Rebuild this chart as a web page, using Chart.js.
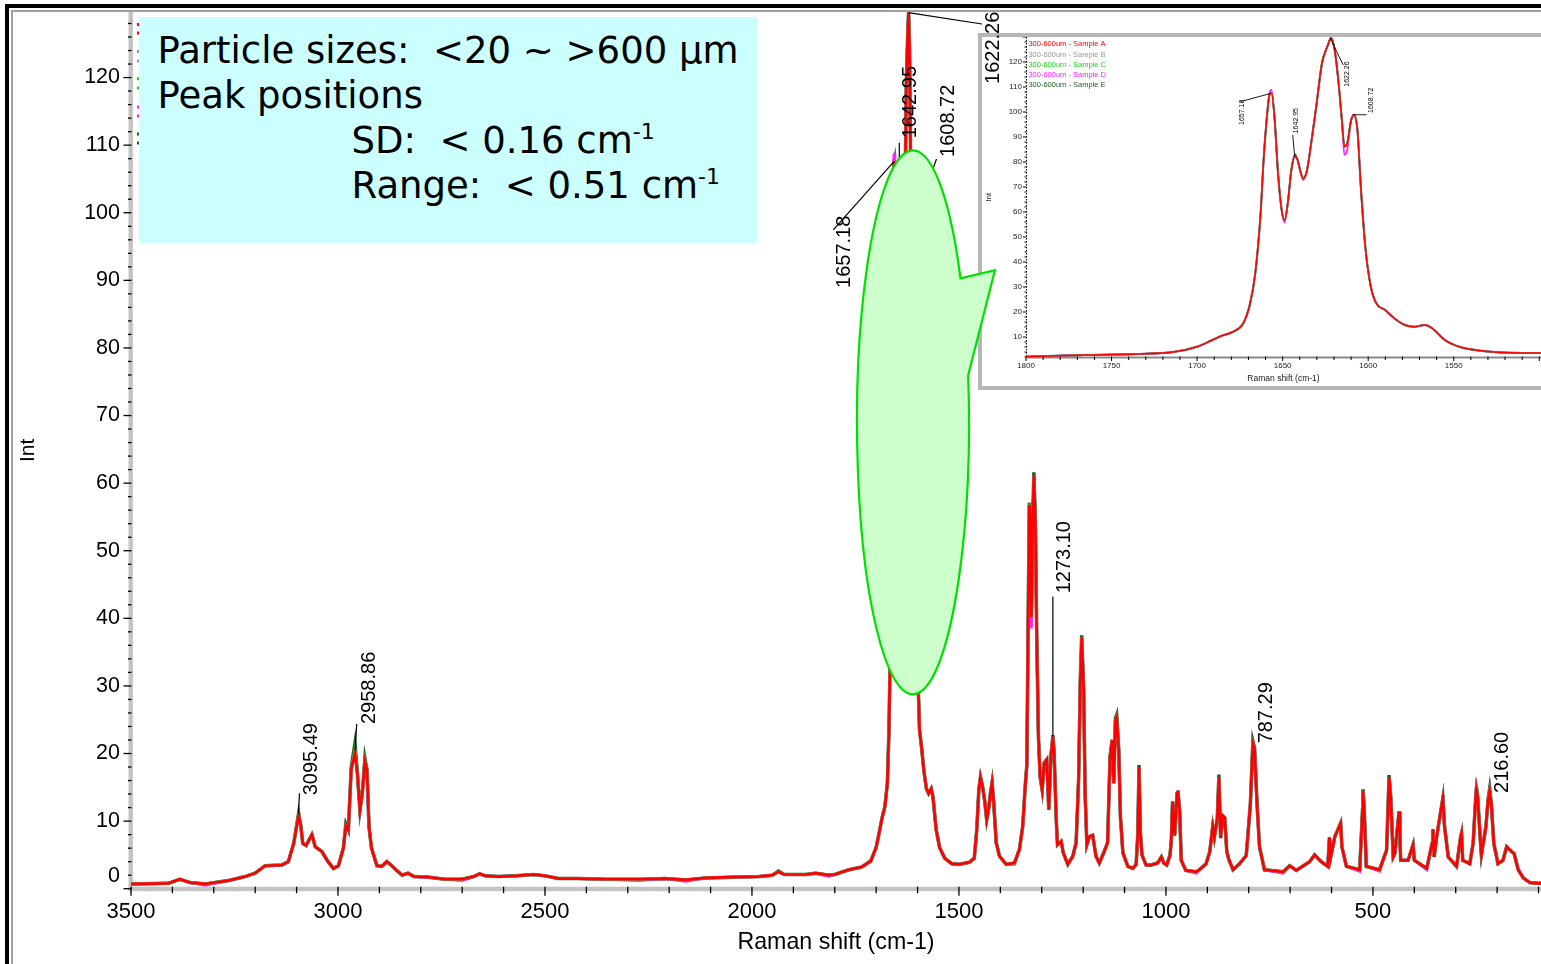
<!DOCTYPE html>
<html>
<head>
<meta charset="utf-8">
<title>Raman spectra – 300-600um samples</title>
<script src="https://cdn.jsdelivr.net/npm/chart.js@4.4.1/dist/chart.umd.min.js"></script>
<style>
  html, body { margin:0; padding:0; background:#fff; width:1541px; height:964px; overflow:hidden; position:relative; }
  .frame-outer { position:absolute; left:5px; top:4px; width:1700px; height:1100px; border-top:4px solid #000; border-left:4px solid #000; }
  .frame-inner { position:absolute; left:11px; top:10px; width:1700px; height:1100px; border-top:2px solid #a0a0a0; border-left:2px solid #a0a0a0; }
  #inset { position:absolute; left:978px; top:33px; width:620px; height:349px; border:4px solid #b6b6b6; border-right:none; background:#fff; z-index:1; }
  #insetCanvas { position:absolute; left:0; top:0; }
  #mainCanvas { position:absolute; left:0; top:0; z-index:2; }
  #note { position:absolute; left:139px; top:17px; width:618px; height:226px; box-sizing:border-box; padding:11px 0 0 18.5px;
          background:#ccffff; z-index:3; font-family:"DejaVu Sans", Verdana, sans-serif; font-size:37px; line-height:45px; color:#000; white-space:pre; }
  #note .ind { padding-left:194px; }
  #note .sup { font-size:22px; position:relative; top:-14px; line-height:0; }
</style>
</head>
<body>
<div class="frame-outer"></div>
<div class="frame-inner"></div>
<div id="inset"><canvas id="insetCanvas" width="559" height="349" style="width:559px;height:349px"></canvas></div>
<canvas id="mainCanvas" width="1541" height="964" style="width:1541px;height:964px"></canvas>
<div id="note"><div>Particle sizes:  &lt;20 ~ &gt;600 μm</div><div>Peak positions</div><div class="ind">SD:  &lt; 0.16 cm<span class="sup">-1</span></div><div class="ind">Range:  &lt; 0.51 cm<span class="sup">-1</span></div></div>
<script>
// ================= DATA =================
const ramanShift = [
  3500,3410,3382,3357,3321,3265,3224,3200,3176,3136,
  3120,3107,3095,3090,3085,3077,3063,3055,3039,3024,
  3011,2999,2987,2981,2975,2968,2959,2953,2947,2941,
  2935,2930,2925,2919,2906,2894,2882,2870,2858,2845,
  2831,2817,2781,2741,2700,2672,2658,2644,2612,2571,
  2527,2499,2467,2418,2354,2273,2209,2160,2112,2047,
  1983,1951,1936,1922,1870,1846,1814,1800,1766,1735,
  1713,1700,1692,1686,1679,1673,1669,1666,1663,1661,
  1659,1657.6,1656.5,1654.8,1652.7,1650.6,1648.9,1647,1644.9,1642.8,
  1641.3,1639.6,1638,1635.9,1633.3,1630.1,1627,1623.8,1621.7,1619.6,
  1617.5,1615.4,1613.9,1612.2,1610.1,1608.4,1606.3,1604.2,1601.7,1598.5,
  1595.3,1590.1,1584.8,1578.6,1573.3,1567,1562.6,1555.2,1546.8,1534.1,
  1517.3,1500.4,1475,1463,1457,1452,1448,1443,1438,1433,
  1428,1424,1420,1416,1410,1402,1386,1366,1354,1346,
  1340,1336,1333,1330,1327,1325,1322,1319,1315.5,1312,
  1308,1304,1299,1294,1288,1283,1278,1273,1270,1265,
  1262,1253,1248,1237,1225,1217,1211,1207,1203.5,1199,
  1195,1191,1185,1177,1169,1161,1149,1141,1135,1130,
  1126,1122,1119,1114,1110,1104,1092,1080,1072,1068,
  1065,1062,1058,1048,1036,1020,1011,1005,998,990,
  987,984,979,973,971,967,963,952,927,919,
  903,894,887,883,876,872,868,863,858,853,
  848,838,822,806,796,790,786,780,774,762,
  717,701,685,653,641,625,609,605,602,592,
  578,575,564,532,525,524,521,516,484,467,
  461,457,451,447,437,435,433,415,403,400,
  370,357,355,352,346,331,327,318,298,288,
  286,283,266,258,252,250,247,240,238,227,
  222,218,214,208,198,186,177,165,159,149,
  137,121,101,90
];
const sampleA = [
  0.7,0.8,1.4,0.9,0.7,1.2,1.8,2.3,3.4,3.5,
  4.0,6.7,10.9,9.4,6.7,6.4,8.0,6.2,5.5,4.0,
  3.0,3.4,6.0,9.3,8.7,17.6,20.0,17.0,11.6,14.3,
  18.8,17.6,9.1,6.0,3.4,3.3,4.0,3.4,2.7,2.0,
  2.3,1.8,1.7,1.4,1.4,1.8,2.2,1.9,1.8,1.9,
  2.1,1.9,1.5,1.5,1.4,1.4,1.5,1.3,1.6,1.7,
  1.8,2.0,2.5,2.1,2.1,2.3,2.0,2.1,2.8,3.2,
  4.1,6.1,8.5,10.4,12.1,15.5,23.5,35.5,58.2,82.2,
  99.6,106.9,107.6,98.2,75.5,60.9,56.6,63.5,76.9,82.2,
  80.9,76.2,73.5,76.2,87.6,103.6,119.6,126.3,129.6,124.9,
  112.9,96.9,86.2,87.6,96.3,98.9,92.9,68.9,46.2,30.2,
  23.5,20.8,17.5,14.8,14.1,14.8,13.5,8.8,6.1,4.5,
  3.7,3.6,3.9,4.5,8.7,14.6,16.5,15.1,13.1,10.2,
  11.9,14.1,15.7,12.7,6.8,4.8,3.6,3.8,5.8,9.2,
  15.1,18.3,38.8,56.8,54.5,40.2,54.0,61.2,54.5,36.8,
  22.5,16.6,14.6,18.6,19.1,11.7,19.5,22.5,20.0,10.2,
  6.5,7.0,5.3,3.6,4.8,6.8,16.1,30.4,37.2,29.9,
  13.6,6.5,7.7,7.9,4.8,3.8,5.5,6.8,19.5,22.0,
  15.6,24.9,25.4,20.5,10.7,5.3,3.3,3.0,3.6,8.0,
  18.0,8.5,5.0,3.5,3.5,3.8,4.7,3.8,3.5,5.0,
  7.2,12.9,7.9,14.1,14.5,11.6,4.2,2.7,2.5,2.8,
  3.7,5.5,9.2,7.6,10.4,16.5,7.5,10.8,10.5,5.5,
  4.3,2.8,3.7,4.9,12.6,21.5,20.8,12.6,6.2,2.8,
  2.5,3.4,2.7,4.0,5.0,4.0,3.3,7.6,4.7,7.7,
  9.7,6.2,3.3,2.8,11.7,14.4,11.7,3.3,2.8,5.7,
  16.5,13.6,4.7,5.2,11.4,8.2,4.2,4.2,6.5,4.2,
  3.0,6.7,8.8,4.7,7.7,13.4,9.2,4.7,3.3,7.7,
  8.2,4.2,3.7,6.7,13.1,14.8,13.6,6.7,5.0,9.2,
  13.1,14.5,12.6,6.7,3.7,4.2,6.2,5.5,5.2,2.8,
  1.6,0.9,0.8,0.8
];
const sampleB = [
  0.7,0.8,1.4,0.9,0.7,1.2,1.8,2.3,3.4,3.5,
  4.0,6.7,10.9,9.4,6.7,6.4,8.0,6.2,5.5,4.0,
  3.0,3.4,6.0,9.3,8.7,17.6,20.3,17.0,11.6,14.3,
  18.8,17.6,9.1,6.0,3.4,3.3,4.0,3.4,2.7,2.0,
  2.3,1.8,1.7,1.4,1.4,1.8,2.2,1.9,1.8,1.9,
  2.1,1.9,1.5,1.5,1.4,1.4,1.5,1.3,1.6,1.7,
  1.8,2.0,2.5,2.1,2.1,2.3,2.0,2.1,2.8,3.2,
  4.1,6.1,8.5,10.4,12.1,15.5,23.5,35.5,58.2,82.2,
  99.6,106.9,107.6,98.2,75.5,60.9,56.6,63.5,76.9,82.2,
  80.9,76.2,73.5,76.2,87.6,103.6,119.6,126.3,129.6,124.9,
  112.9,96.9,86.2,87.6,96.3,98.9,92.9,68.9,46.2,30.2,
  23.5,20.8,17.5,14.8,14.1,14.8,13.5,8.8,6.1,4.5,
  3.7,3.6,3.9,4.5,8.7,14.6,16.5,15.1,13.1,10.2,
  11.9,14.1,15.7,12.7,6.8,4.8,3.6,3.8,5.8,9.2,
  15.1,18.3,38.8,56.8,54.5,40.6,54.0,61.2,54.5,36.8,
  22.5,16.6,14.6,18.6,19.1,11.7,19.5,22.5,20.0,10.2,
  6.5,7.0,5.3,3.6,4.8,6.8,16.1,30.4,37.2,29.9,
  13.6,6.5,7.7,7.9,4.8,3.8,5.5,6.8,19.5,22.0,
  15.6,24.9,25.4,20.5,10.7,5.3,3.3,3.0,3.6,8.0,
  18.0,8.5,5.0,3.5,3.5,3.8,4.7,3.8,3.5,5.0,
  7.2,12.9,7.9,14.1,14.5,11.6,4.2,2.7,2.5,2.8,
  3.7,5.5,9.2,7.6,10.4,16.5,7.5,10.8,10.5,5.5,
  4.3,2.8,3.7,4.9,12.6,21.5,20.8,12.6,6.2,2.8,
  2.5,3.4,2.7,4.0,5.0,4.0,3.3,7.6,4.7,7.7,
  9.7,6.2,3.3,2.8,11.7,14.4,11.7,3.3,2.8,5.7,
  16.5,13.6,4.7,5.2,11.4,8.2,4.2,4.2,6.5,4.2,
  3.0,6.7,8.8,4.7,7.7,13.4,9.2,4.7,3.3,7.7,
  8.2,4.2,3.7,6.7,13.1,14.8,13.6,6.7,5.0,9.2,
  13.1,14.5,12.6,6.7,3.7,4.2,6.2,5.5,5.2,2.8,
  1.6,0.9,0.8,0.8
];
const sampleC = [
  0.7,0.8,1.4,0.9,0.7,1.2,1.8,2.3,3.4,3.5,
  4.0,6.7,10.9,9.4,6.7,6.4,8.0,6.2,5.5,4.0,
  3.0,3.4,6.0,9.3,8.7,17.6,20.6,17.0,11.6,14.3,
  19.0,17.6,9.1,6.0,3.4,3.3,4.0,3.4,2.7,2.0,
  2.3,1.9,1.7,1.4,1.4,1.8,2.2,1.9,1.8,1.9,
  2.1,1.9,1.5,1.5,1.4,1.4,1.5,1.3,1.6,1.7,
  1.8,2.0,2.5,2.1,2.1,2.3,2.0,2.1,2.8,3.2,
  4.1,6.1,8.5,10.4,12.1,15.5,23.5,35.5,58.2,82.2,
  99.6,106.9,107.6,98.2,75.5,60.9,56.6,63.5,76.9,82.2,
  80.9,76.2,73.5,76.2,87.6,103.6,119.6,126.3,129.6,124.9,
  112.9,96.9,86.2,87.6,96.3,98.9,92.9,68.9,46.2,30.2,
  23.5,20.8,17.5,14.8,14.1,14.8,13.5,8.8,6.1,4.5,
  3.7,3.6,3.9,4.5,8.7,14.6,16.5,15.1,13.1,10.2,
  11.9,14.1,15.7,12.7,6.8,4.8,3.6,3.8,5.8,9.2,
  15.1,18.5,38.8,57.0,54.5,40.2,54.0,61.2,54.5,36.8,
  22.5,16.6,14.6,18.6,19.1,11.7,19.5,22.5,20.0,10.2,
  6.5,7.0,5.3,3.6,4.8,6.8,16.1,30.4,37.2,29.9,
  13.6,6.5,7.7,7.9,4.8,3.8,5.5,6.8,19.5,22.0,
  15.6,24.9,25.4,20.5,10.7,5.3,3.3,3.0,3.6,8.0,
  18.0,8.5,5.0,3.5,3.5,3.8,4.7,3.8,3.5,5.0,
  7.2,12.9,7.9,14.1,14.5,11.6,4.2,2.7,2.5,2.8,
  3.7,5.5,9.2,7.6,10.4,16.5,7.5,10.8,10.5,5.5,
  4.3,2.8,3.7,4.9,12.6,21.5,20.8,12.6,6.2,2.8,
  2.5,3.4,2.7,4.0,5.0,4.0,3.3,7.6,4.7,7.7,
  9.7,6.2,3.3,2.8,11.7,14.4,11.7,3.3,2.8,5.7,
  16.5,13.6,4.7,5.2,11.4,8.2,4.2,4.2,6.5,4.2,
  3.0,6.7,8.8,4.7,7.7,13.4,9.2,4.7,3.3,7.7,
  8.2,4.2,3.7,6.7,13.1,14.8,13.6,6.7,5.0,9.2,
  13.1,14.5,12.6,6.7,3.7,4.2,6.2,5.5,5.2,2.8,
  1.6,0.9,0.8,0.8
];
const sampleD = [
  0.7,0.8,1.4,0.9,0.5,1.2,1.8,2.3,3.4,3.5,
  4.0,6.7,10.9,9.4,6.7,6.4,8.0,6.2,5.5,4.0,
  3.0,3.4,6.0,9.3,8.7,17.6,20.0,17.0,11.6,14.3,
  18.8,17.6,9.1,6.0,3.4,3.3,4.0,3.4,2.7,2.0,
  2.3,1.8,1.7,1.4,1.2,1.8,2.2,1.9,1.8,1.9,
  2.1,1.9,1.5,1.5,1.4,1.2,1.5,1.1,1.6,1.7,
  1.8,2.0,2.5,2.1,2.1,2.3,1.8,2.1,2.8,3.2,
  4.1,6.1,8.5,10.4,12.1,15.5,23.5,35.5,58.2,82.2,
  99.6,107.8,108.8,98.2,75.5,60.9,55.8,63.5,76.9,82.2,
  80.9,76.2,72.8,76.2,87.6,103.6,119.6,126.3,129.6,124.9,
  112.9,96.9,82.9,85.0,96.3,98.9,92.9,68.9,46.2,30.2,
  23.5,20.8,17.5,14.8,14.1,14.8,13.5,8.8,6.1,4.5,
  3.7,3.6,3.9,4.5,8.7,14.6,16.5,15.1,13.1,10.2,
  11.9,14.1,15.7,12.7,6.8,4.8,3.6,3.6,5.8,9.2,
  15.1,18.3,38.0,56.8,54.5,38.5,53.0,61.2,54.5,36.8,
  22.5,16.6,14.6,18.6,19.1,11.7,19.5,22.5,20.0,10.2,
  6.5,7.0,5.3,3.6,4.8,6.8,16.1,30.4,36.8,29.9,
  13.6,6.5,7.7,7.9,4.8,3.8,5.5,6.8,19.5,22.0,
  15.6,24.9,25.0,20.5,10.7,5.3,3.3,3.0,3.6,8.0,
  18.0,8.5,5.0,3.5,3.5,3.8,4.7,3.8,3.5,5.0,
  7.2,12.9,7.9,14.1,14.5,11.6,4.2,2.7,2.3,2.8,
  3.7,5.5,9.2,7.6,10.4,16.5,7.5,10.8,10.5,5.5,
  4.3,2.8,3.7,4.9,12.6,21.5,20.8,12.6,6.2,2.8,
  2.3,3.4,2.7,4.0,5.0,4.0,3.3,7.6,4.7,7.7,
  9.7,6.2,3.3,2.6,11.7,14.4,11.7,3.3,2.6,5.7,
  16.5,13.6,4.7,5.2,11.4,8.2,4.2,4.2,6.5,4.2,
  2.8,6.7,8.8,4.7,7.7,13.4,9.2,4.7,3.3,7.7,
  8.2,4.2,3.7,6.7,13.1,14.8,13.6,6.7,5.0,9.2,
  13.1,14.5,12.6,6.7,3.7,4.2,6.2,5.5,5.2,2.8,
  1.6,0.9,0.8,0.8
];
const sampleE = [
  0.7,0.8,1.4,0.9,0.7,1.2,1.8,2.3,3.4,3.5,
  4.0,6.7,11.2,9.4,6.7,6.4,8.0,6.2,5.5,4.0,
  3.0,3.4,6.0,9.6,8.7,17.9,21.5,17.0,11.6,14.3,
  19.3,17.6,9.1,6.0,3.4,3.3,4.0,3.4,2.7,2.0,
  2.3,1.8,1.7,1.4,1.4,1.8,2.2,1.9,1.8,1.9,
  2.1,1.9,1.5,1.5,1.4,1.4,1.5,1.3,1.6,1.7,
  1.8,2.0,2.6,2.1,2.1,2.3,2.0,2.1,2.8,3.2,
  4.1,6.1,8.5,10.4,12.1,15.5,23.5,35.5,58.2,82.2,
  99.6,107.3,107.6,98.2,75.5,60.9,56.6,63.5,76.9,83.0,
  80.9,76.2,73.5,76.2,87.6,103.6,119.6,126.3,129.6,124.9,
  112.9,96.9,86.2,87.6,96.3,98.9,92.9,68.9,46.2,30.2,
  23.5,20.8,17.5,14.8,14.1,14.8,13.5,8.8,6.1,4.5,
  3.7,3.6,3.9,4.5,8.7,14.6,16.5,15.1,13.1,10.2,
  11.9,14.1,15.7,12.7,6.8,4.8,3.6,3.8,5.8,9.2,
  15.1,18.3,38.8,57.1,54.5,40.2,54.0,61.6,54.5,36.8,
  22.5,16.6,14.6,18.6,19.1,11.7,19.5,22.7,20.0,10.2,
  6.5,7.0,5.3,3.6,4.8,6.8,16.1,30.4,37.5,29.9,
  13.6,6.5,7.7,7.9,4.8,3.8,5.5,6.8,19.5,22.0,
  15.6,25.2,25.7,20.5,10.7,5.3,3.3,3.0,3.6,8.0,
  18.3,8.5,5.0,3.5,3.5,3.8,4.7,3.8,3.5,5.0,
  7.2,12.9,7.9,14.1,14.5,11.6,4.2,2.7,2.5,2.8,
  3.7,5.5,9.2,7.6,10.4,16.9,7.5,10.8,10.5,5.5,
  4.3,2.8,3.7,4.9,12.6,21.8,20.8,12.6,6.2,2.8,
  2.5,3.4,2.7,4.0,5.0,4.0,3.3,7.6,4.7,7.7,
  9.7,6.2,3.3,2.8,11.7,14.7,11.7,3.3,2.8,5.7,
  16.8,13.6,4.7,5.2,11.4,8.2,4.2,4.2,6.5,4.2,
  3.0,6.7,8.8,4.7,7.7,13.4,9.2,4.7,3.3,7.7,
  8.2,4.2,3.7,6.7,13.1,15.0,13.6,6.7,5.0,9.2,
  13.1,14.8,12.6,6.7,3.7,4.2,6.2,5.5,5.2,2.8,
  1.6,0.9,0.8,0.8
];
const seriesNames = ['300-600um - Sample A','300-600um - Sample B','300-600um - Sample C','300-600um - Sample D','300-600um - Sample E'];
const seriesValues = [sampleA, sampleB, sampleC, sampleD, sampleE];

const mainXTicks = [3500, 3000, 2500, 2000, 1500, 1000, 500];
const mainYTicks = [0, 10, 20, 30, 40, 50, 60, 70, 80, 90, 100, 110, 120];
const insetXTicks = [1800, 1750, 1700, 1650, 1600, 1550];
const insetYTicks = [10, 20, 30, 40, 50, 60, 70, 80, 90, 100, 110, 120];

const peakLabels = ['3095.49', '2958.86', '1657.18', '1642.95', '1622.26', '1608.72', '1273.10', '787.29', '216.60'];
const peakShift = [3095.49, 2958.86, 1657.18, 1642.95, 1622.26, 1608.72, 1273.10, 787.29, 216.60];
const peakIntensity = [11.0, 20.0, 108.6, 82.2, 129.6, 98.9, 22.5, 21.5, 14.5];

const insetPeakLabels = ['1657.18', '1642.95', '1622.26', '1608.72'];
const insetPeakShift = [1657.18, 1642.95, 1622.26, 1608.72];
const insetPeakIntensity = [108.6, 82.2, 129.6, 98.9];

// ================= STYLE =================
const seriesColors = ['#ff0000', '#999999', '#22cc22', '#ff22ff', '#1f5f1f'];
const mainLineWidths = [2.7, 2.7, 2.8, 2.9, 3.5];
const insetLineWidths = [1.5, 1.5, 1.6, 1.8, 2.0];
// label placement offsets (px, relative to the peak point): s = leader start, e = leader end, t = text centre/bottom
const mainLabelLayout = [
  { s: [0, 0], e: [1, -21], t: [13.5, -19] },
  { s: [0, -3], e: [1.7, -29.5], t: [14, -29.5] },
  { s: [0, 7], e: [-60.6, 75.3], t: [-48.9, 133.3] },
  { s: [0, 0], e: [-0.5, -190.4], t: [11.2, -194.8] },
  { s: [0, 0], e: [73.6, 11.3], t: [85.6, 71.3] },
  { s: [0, 0], e: [22.6, -61.2], t: [34.1, -63.2] },
  { s: [0, 0], e: [0, -140], t: [12.1, -143.3] },
  { s: [0, 0], e: [0, 0], t: [12, 0] },
  { s: [0, 0], e: [0, 0], t: [12.2, 2.3] }
];
const insetLabelLayout = [
  { s: [0, 3], e: [-30.1, 11.2], t: [-28.4, 34.5] },
  { s: [0, 0], e: [-2, -21.5], t: [1.6, -23.2] },
  { s: [0, 0], e: [13.1, 27], t: [16.7, 48.7] },
  { s: [0, 0], e: [13.4, 0], t: [17.7, -1.75] }
];
// callout (ellipse centre & tail tip in data units, radii in px)
const callout = { cx: 1611, cy: 69, rx: 56, ry: 272, tipX: 1413, tipY: 91.5, a1: -0.558, a2: -0.1737 };
const FONT = '"Liberation Sans", Arial, Helvetica, sans-serif';
const plainNumber = v => String(v);

function buildDatasets(widths, smooth) {
  return seriesValues.map((vals, i) => ({
    label: seriesNames[i],
    data: vals.map((v, j) => ({ x: ramanShift[j], y: v })),
    borderColor: seriesColors[i],
    backgroundColor: seriesColors[i],
    borderWidth: widths[i],
    pointRadius: 0,
    pointHoverRadius: 0,
    tension: smooth ? 0.4 : 0,
    cubicInterpolationMode: smooth ? 'monotone' : 'default',
    fill: false
  }));
}
function zeroPad(s) { s.paddingLeft = 0; s.paddingRight = 0; s.paddingTop = 0; s.paddingBottom = 0; }

function drawLeaders(ctx, x, y, shifts, heights, layout, lw) {
  ctx.strokeStyle = '#000'; ctx.lineWidth = lw;
  shifts.forEach((v, i) => {
    const L = layout[i];
    const px = x.getPixelForValue(v), py = y.getPixelForValue(heights[i]);
    if (L.s[0] !== L.e[0] || L.s[1] !== L.e[1]) {
      ctx.beginPath(); ctx.moveTo(px + L.s[0], py + L.s[1]); ctx.lineTo(px + L.e[0], py + L.e[1]); ctx.stroke();
    }
  });
}
function drawLabelTexts(ctx, x, y, shifts, heights, texts, layout, font) {
  ctx.fillStyle = '#000'; ctx.font = font; ctx.textAlign = 'left'; ctx.textBaseline = 'middle';
  shifts.forEach((v, i) => {
    const L = layout[i];
    const px = x.getPixelForValue(v), py = y.getPixelForValue(heights[i]);
    ctx.save(); ctx.translate(px + L.t[0], py + L.t[1]); ctx.rotate(-Math.PI / 2);
    ctx.fillText(texts[i], 0, 0); ctx.restore();
  });
}

// ================= MAIN CHART =================
const mainDecor = {
  id: 'mainDecor',
  beforeDatasetsDraw(chart) {
    const { ctx, chartArea: a, scales: { x, y } } = chart;
    ctx.save();
    ctx.fillStyle = '#c4c4c4';
    ctx.fillRect(a.left - 2.5, a.top, 4.5, a.bottom - a.top + 2);
    ctx.fillRect(a.left - 2.5, a.bottom - 2, a.right - a.left + 3, 4.5);
    ctx.strokeStyle = '#000'; ctx.lineWidth = 1.3;
    for (let v = 0; v <= y.max; v += 2) {
      const py = y.getPixelForValue(v);
      const major = v % 10 === 0;
      ctx.beginPath(); ctx.moveTo(a.left - (major ? 7.5 : 3), py); ctx.lineTo(a.left + 0.5, py); ctx.stroke();
    }
    for (let v = x.max; v >= x.min; v -= 100) {
      const px = x.getPixelForValue(v);
      const major = v % 500 === 0;
      ctx.beginPath(); ctx.moveTo(px, a.bottom - 2); ctx.lineTo(px, a.bottom + (major ? 7 : 4.5)); ctx.stroke();
    }
    ctx.restore();
  },
  afterDatasetsDraw(chart) {
    const { ctx, chartArea: a, scales: { x, y } } = chart;
    ctx.save();
    drawLeaders(ctx, x, y, peakShift, peakIntensity, mainLabelLayout, 1.2);
    // callout balloon
    const cx = x.getPixelForValue(callout.cx), cy = y.getPixelForValue(callout.cy);
    const tx = x.getPixelForValue(callout.tipX), ty = y.getPixelForValue(callout.tipY);
    ctx.beginPath();
    ctx.ellipse(cx, cy, callout.rx, callout.ry, 0, callout.a2, callout.a1 + 2 * Math.PI, false);
    ctx.lineTo(tx, ty);
    ctx.closePath();
    ctx.fillStyle = '#ccffcc'; ctx.fill();
    ctx.strokeStyle = '#00e000'; ctx.lineWidth = 2.2; ctx.lineJoin = 'miter'; ctx.stroke();
    drawLabelTexts(ctx, x, y, peakShift, peakIntensity, peakLabels, mainLabelLayout, '20px ' + FONT);
    // zero label of the y axis (drawn slightly raised, like the original)
    ctx.fillStyle = '#000'; ctx.font = '21.5px ' + FONT; ctx.textAlign = 'right'; ctx.textBaseline = 'middle';
    ctx.fillText('0', a.left - 11, y.getPixelForValue(0) - 13);
    // legend remnants peeking out from behind the note box
    const legendOffsets = [[12.5, 21], [39.5, 49], [66.7, 76], [95, 104], [122, 131]];
    legendOffsets.forEach((pair, i) => {
      ctx.fillStyle = seriesColors[i];
      pair.forEach(o => ctx.fillRect(a.left + 6, a.top + o - 1.5, 2.5, 3));
    });
    ctx.restore();
  }
};

new Chart(document.getElementById('mainCanvas'), {
  type: 'line',
  data: { datasets: buildDatasets(mainLineWidths, false) },
  options: {
    responsive: false, animation: false, devicePixelRatio: 1, events: [],
    layout: { padding: { top: 12, left: 0, right: 0, bottom: 0 }, autoPadding: false },
    plugins: { legend: { display: false }, tooltip: { enabled: false } },
    scales: {
      x: {
        type: 'linear', reverse: true, min: 94, max: 3500,
        afterBuildTicks: s => { s.ticks = mainXTicks.map(v => ({ value: v })); },
        afterFit: s => { s.height = 964 - 888.7; zeroPad(s); },
        grid: { display: false, drawTicks: true, tickLength: 7 },
        border: { display: false },
        ticks: { font: { family: FONT, size: 22 }, color: '#000', padding: 3, autoSkip: false, maxRotation: 0, callback: plainNumber },
        title: { display: true, text: 'Raman shift (cm-1)', color: '#000', font: { family: FONT, size: 23.2 }, padding: { top: 0, bottom: 7 } }
      },
      y: {
        type: 'linear', min: 0, max: 129.7,
        afterBuildTicks: s => { s.ticks = mainYTicks.map(v => ({ value: v })); },
        afterFit: s => { s.width = 131; zeroPad(s); },
        grid: { display: false, drawTicks: true, tickLength: 8 },
        border: { display: false },
        ticks: { font: { family: FONT, size: 21.5 }, color: '#000', padding: 3, autoSkip: false,
                 callback: v => (v === 0 ? '' : String(v)) },
        title: { display: true, text: 'Int', color: '#000', font: { family: FONT, size: 21 }, padding: { top: 15.5, bottom: 0 } }
      }
    }
  },
  plugins: [mainDecor]
});

// ================= INSET CHART =================
const insetDecor = {
  id: 'insetDecor',
  beforeDatasetsDraw(chart) {
    const { ctx, chartArea: a, scales: { x, y } } = chart;
    ctx.save();
    ctx.strokeStyle = '#8a8a8a'; ctx.lineWidth = 2;
    ctx.beginPath(); ctx.moveTo(a.left, a.bottom); ctx.lineTo(a.right, a.bottom); ctx.stroke();
    ctx.strokeStyle = '#000'; ctx.lineWidth = 1;
    ctx.setLineDash([1.5, 1.5]);
    ctx.beginPath(); ctx.moveTo(a.left + 0.5, a.top); ctx.lineTo(a.left + 0.5, a.bottom); ctx.stroke();
    ctx.setLineDash([]);
    for (let v = 2; v <= y.max; v += 2) {
      const py = y.getPixelForValue(v);
      const major = v % 10 === 0;
      ctx.beginPath(); ctx.moveTo(a.left - (major ? 3 : 1.5), py); ctx.lineTo(a.left + 0.5, py); ctx.stroke();
    }
    for (let v = x.max; v >= x.min; v -= 10) {
      const px = x.getPixelForValue(v);
      const major = v % 50 === 0;
      ctx.beginPath(); ctx.moveTo(px, a.bottom - 1); ctx.lineTo(px, a.bottom + (major ? 3.5 : 2.5)); ctx.stroke();
    }
    ctx.restore();
  },
  afterDatasetsDraw(chart) {
    const { ctx, chartArea: a, scales: { x, y } } = chart;
    ctx.save();
    ctx.font = '7.5px ' + FONT; ctx.textAlign = 'left'; ctx.textBaseline = 'middle';
    chart.data.datasets.forEach((ds, i) => {
      ctx.fillStyle = ds.borderColor;
      ctx.fillText(ds.label, a.left + 2.4, a.top + 7.3 + i * 10.25);
    });
    drawLeaders(ctx, x, y, insetPeakShift, insetPeakIntensity, insetLabelLayout, 0.9);
    drawLabelTexts(ctx, x, y, insetPeakShift, insetPeakIntensity, insetPeakLabels, insetLabelLayout, '7px ' + FONT);
    ctx.restore();
  }
};

new Chart(document.getElementById('insetCanvas'), {
  type: 'line',
  data: { datasets: buildDatasets(insetLineWidths, true) },
  options: {
    responsive: false, animation: false, devicePixelRatio: 1, events: [],
    layout: { padding: 0, autoPadding: false },
    plugins: { legend: { display: false }, tooltip: { enabled: false } },
    scales: {
      x: {
        type: 'linear', reverse: true, min: 1499, max: 1800,
        afterBuildTicks: s => { s.ticks = insetXTicks.map(v => ({ value: v })); },
        afterFit: s => { s.height = 28.5; zeroPad(s); },
        grid: { display: false, drawTicks: true, tickLength: 2 },
        border: { display: false },
        ticks: { font: { family: FONT, size: 8 }, color: '#222', padding: 1, autoSkip: false, maxRotation: 0, callback: plainNumber },
        title: { display: true, text: 'Raman shift (cm-1)', color: '#222', font: { family: FONT, size: 8.5 }, padding: { top: 0, bottom: 2 } }
      },
      y: {
        type: 'linear', min: 1.8, max: 130,
        afterBuildTicks: s => { s.ticks = insetYTicks.map(v => ({ value: v })); },
        afterFit: s => { s.width = 44; zeroPad(s); },
        grid: { display: false, drawTicks: true, tickLength: 3 },
        border: { display: false },
        ticks: { font: { family: FONT, size: 8 }, color: '#222', padding: 1, autoSkip: false, callback: plainNumber },
        title: { display: true, text: 'Int', color: '#222', font: { family: FONT, size: 8 }, padding: { top: 2, bottom: 0 } }
      }
    }
  },
  plugins: [insetDecor]
});
</script>
</body>
</html>
